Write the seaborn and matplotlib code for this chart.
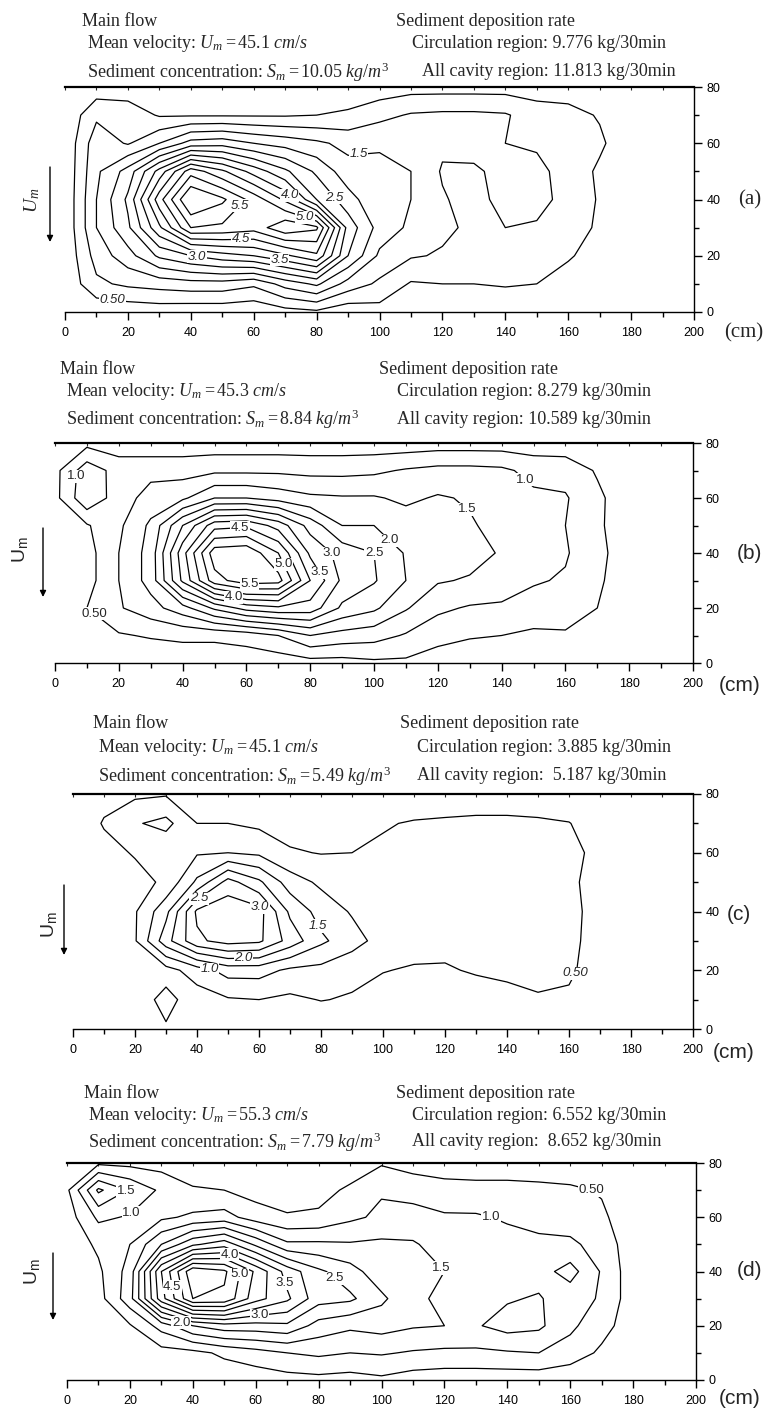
import numpy as np
import matplotlib
matplotlib.use("Agg")
import matplotlib.pyplot as plt
from matplotlib.ticker import MultipleLocator
import seaborn as sns

sns.set_style("ticks")
plt.rcParams['font.family'] = ['Liberation Sans', 'DejaVu Sans']
plt.rcParams['mathtext.fontset'] = 'custom'
plt.rcParams['mathtext.rm'] = 'Liberation Serif'
plt.rcParams['mathtext.it'] = 'Liberation Serif:italic'
plt.rcParams['mathtext.sf'] = 'Liberation Sans'

# ---------------- data ----------------
x_cm = [0, 10, 20, 30, 40, 50, 60, 70, 80, 90, 100, 110, 120, 130, 140, 150, 160, 170, 180, 190, 200]
y_cm = [0, 10, 20, 30, 40, 50, 60, 70, 80]

# each inner list = one x column (values at y = 0..80), sediment concentration
conc_a = [
    [0.1, 0.1, 0.1, 0.1, 0.1, 0.1, 0.1, 0.1, 0.1],
    [0.1, 0.9, 1.2, 1.5, 1.5, 1.4, 1.3, 0.9, 0.2],
    [0.15, 1.1, 1.8, 2.4, 2.6, 2.2, 0.95, 0.8, 0.2],
    [0.2, 1.2, 2.6, 3.9, 4.8, 3.7, 1.5, 0.45, 0.1],
    [0.15, 1.3, 3.0, 5.5, 6.6, 5.3, 2.2, 0.45, 0.1],
    [0.15, 1.3, 3.3, 5.4, 6.1, 4.6, 2.3, 0.45, 0.1],
    [0.1, 1.1, 3.5, 5.2, 5.3, 3.8, 2.0, 0.45, 0.1],
    [0.3, 1.7, 3.9, 5.9, 4.4, 3.1, 1.8, 0.45, 0.1],
    [0.4, 2.1, 4.4, 5.6, 3.0, 2.4, 1.6, 0.5, 0.1],
    [0.15, 1.3, 2.5, 2.8, 2.2, 1.7, 1.35, 0.6, 0.1],
    [0.3, 0.9, 1.4, 1.8, 1.6, 1.6, 1.45, 0.85, 0.2],
    [0.1, 0.45, 1.05, 1.4, 1.5, 1.5, 1.3, 1.05, 0.3],
    [0.1, 0.5, 0.95, 1.1, 1.05, 0.95, 1.1, 1.1, 0.3],
    [0.1, 0.5, 0.85, 0.9, 0.8, 0.9, 1.25, 1.1, 0.3],
    [0.1, 0.55, 0.85, 1.0, 1.2, 1.2, 1.0, 1.05, 0.3],
    [0.1, 0.5, 0.75, 0.95, 1.15, 1.1, 0.95, 0.75, 0.25],
    [0.05, 0.3, 0.55, 0.8, 0.85, 0.85, 0.6, 0.7, 0.2],
    [0.05, 0.1, 0.3, 0.4, 0.45, 0.4, 0.6, 0.45, 0.1],
    [0.0, 0.0, 0.05, 0.05, 0.05, 0.05, 0.1, 0.05, 0.0],
    [0.0, 0.0, 0.0, 0.0, 0.0, 0.0, 0.0, 0.0, 0.0],
    [0.0, 0.0, 0.0, 0.0, 0.0, 0.0, 0.0, 0.0, 0.0],
]

conc_b = [
    [0.1, 0.1, 0.1, 0.1, 0.1, 0.2, 0.35, 0.35, 0.1],
    [0.1, 0.3, 0.5, 0.3, 0.3, 0.45, 1.4, 1.3, 0.35],
    [0.1, 0.45, 0.95, 1.0, 1.0, 0.9, 0.75, 0.8, 0.2],
    [0.1, 0.55, 1.3, 1.7, 1.7, 1.6, 1.2, 0.85, 0.15],
    [0.2, 0.6, 1.8, 3.6, 3.8, 3.0, 1.4, 0.8, 0.2],
    [0.2, 0.6, 2.6, 5.3, 5.8, 4.3, 2.0, 0.9, 0.2],
    [0.2, 0.7, 3.2, 5.8, 5.9, 4.4, 2.0, 0.9, 0.2],
    [0.2, 1.0, 3.4, 5.7, 5.0, 3.8, 1.8, 0.9, 0.2],
    [0.3, 1.5, 3.3, 4.0, 3.4, 2.8, 1.6, 0.85, 0.2],
    [0.3, 1.3, 2.4, 2.9, 2.8, 2.0, 1.55, 0.85, 0.2],
    [0.4, 1.2, 2.1, 2.55, 2.5, 2.0, 1.55, 0.9, 0.2],
    [0.4, 0.95, 1.55, 2.0, 1.95, 1.75, 1.4, 1.05, 0.2],
    [0.2, 0.7, 1.1, 1.55, 1.6, 1.6, 1.55, 1.15, 0.25],
    [0.15, 0.55, 0.95, 1.45, 1.7, 1.55, 1.45, 1.15, 0.25],
    [0.1, 0.5, 0.9, 1.35, 1.45, 1.35, 1.1, 1.1, 0.25],
    [0.1, 0.4, 0.8, 1.05, 1.2, 1.1, 1.1, 0.85, 0.2],
    [0.05, 0.45, 0.7, 0.95, 1.05, 1.0, 1.05, 0.8, 0.2],
    [0.05, 0.2, 0.5, 0.6, 0.65, 0.6, 0.6, 0.45, 0.1],
    [0.0, 0.05, 0.1, 0.15, 0.2, 0.15, 0.2, 0.1, 0.05],
    [0.0, 0.0, 0.0, 0.0, 0.0, 0.0, 0.0, 0.0, 0.0],
    [0.0, 0.0, 0.0, 0.0, 0.0, 0.0, 0.0, 0.0, 0.0],
]

conc_c = [
    [0.05, 0.05, 0.05, 0.05, 0.05, 0.05, 0.05, 0.05, 0.05],
    [0.0, 0.05, 0.1, 0.1, 0.15, 0.2, 0.3, 0.55, 0.3],
    [0.05, 0.25, 0.35, 0.45, 0.45, 0.3, 0.55, 0.95, 0.4],
    [0.45, 0.65, 0.3, 1.8, 1.35, 0.6, 0.6, 1.15, 0.45],
    [0.2, 0.25, 0.75, 2.9, 3.1, 1.6, 0.95, 0.5, 0.2],
    [0.2, 0.45, 1.2, 3.2, 3.35, 2.7, 1.0, 0.5, 0.2],
    [0.1, 0.5, 1.2, 3.1, 3.2, 2.1, 0.9, 0.4, 0.15],
    [0.05, 0.4, 0.9, 2.3, 1.9, 1.25, 0.55, 0.3, 0.1],
    [0.1, 0.52, 0.85, 1.6, 1.3, 0.9, 0.48, 0.25, 0.05],
    [0.05, 0.45, 0.65, 1.2, 0.95, 0.75, 0.5, 0.3, 0.05],
    [0.05, 0.3, 0.52, 0.8, 0.75, 0.7, 0.6, 0.45, 0.05],
    [0.05, 0.2, 0.45, 0.7, 0.7, 0.7, 0.65, 0.55, 0.1],
    [0.05, 0.2, 0.45, 0.65, 0.7, 0.7, 0.7, 0.6, 0.1],
    [0.05, 0.25, 0.55, 0.65, 0.7, 0.7, 0.7, 0.65, 0.1],
    [0.05, 0.35, 0.6, 0.65, 0.7, 0.7, 0.7, 0.65, 0.1],
    [0.05, 0.45, 0.65, 0.7, 0.7, 0.7, 0.6, 0.6, 0.1],
    [0.05, 0.4, 0.6, 0.65, 0.65, 0.6, 0.55, 0.52, 0.1],
    [0.0, 0.1, 0.2, 0.25, 0.3, 0.3, 0.45, 0.2, 0.05],
    [0.0, 0.0, 0.0, 0.0, 0.0, 0.0, 0.0, 0.0, 0.0],
    [0.0, 0.0, 0.0, 0.0, 0.0, 0.0, 0.0, 0.0, 0.0],
    [0.0, 0.0, 0.0, 0.0, 0.0, 0.0, 0.0, 0.0, 0.0],
]

conc_d = [
    [0.05, 0.05, 0.05, 0.1, 0.1, 0.15, 0.25, 0.4, 0.2],
    [0.05, 0.1, 0.15, 0.3, 0.4, 0.6, 1.1, 2.1, 0.4],
    [0.1, 0.2, 0.45, 1.3, 1.2, 1.0, 0.95, 1.45, 0.35],
    [0.1, 0.3, 1.2, 3.8, 4.0, 2.0, 0.9, 0.9, 0.3],
    [0.1, 0.35, 2.0, 5.5, 5.9, 2.9, 1.1, 0.55, 0.2],
    [0.15, 0.6, 2.3, 5.4, 5.6, 3.3, 1.2, 0.5, 0.2],
    [0.2, 0.8, 2.3, 4.2, 4.4, 2.4, 0.75, 0.3, 0.15],
    [0.3, 1.0, 2.4, 3.6, 3.3, 1.6, 0.55, 0.25, 0.1],
    [0.35, 1.1, 1.8, 2.7, 2.6, 1.6, 0.6, 0.3, 0.15],
    [0.3, 1.0, 1.6, 2.6, 2.2, 1.55, 0.9, 0.6, 0.15],
    [0.4, 1.05, 1.7, 2.1, 1.7, 1.6, 1.1, 0.95, 0.45],
    [0.25, 0.95, 1.55, 1.6, 1.55, 1.55, 1.2, 0.8, 0.3],
    [0.2, 0.9, 1.5, 1.4, 1.5, 1.3, 1.05, 0.75, 0.15],
    [0.2, 0.9, 1.45, 1.5, 1.25, 1.2, 1.05, 0.7, 0.15],
    [0.2, 0.95, 1.7, 1.45, 1.2, 1.15, 0.95, 0.7, 0.15],
    [0.2, 1.0, 1.6, 1.55, 1.3, 1.1, 0.85, 0.65, 0.15],
    [0.1, 0.8, 1.1, 1.2, 1.7, 1.1, 0.75, 0.6, 0.1],
    [0.05, 0.4, 0.7, 0.95, 0.95, 0.8, 0.6, 0.45, 0.05],
    [0.0, 0.1, 0.2, 0.2, 0.2, 0.2, 0.15, 0.1, 0.0],
    [0.0, 0.0, 0.0, 0.0, 0.0, 0.0, 0.0, 0.0, 0.0],
    [0.0, 0.0, 0.0, 0.0, 0.0, 0.0, 0.0, 0.0, 0.0],
]

levels_a = [0.5, 1.0, 1.5, 2.0, 2.5, 3.0, 3.5, 4.0, 4.5, 5.0, 5.5, 6.0]
levels_b = [0.5, 1.0, 1.5, 2.0, 2.5, 3.0, 3.5, 4.0, 4.5, 5.0, 5.5]
levels_c = [0.5, 1.0, 1.5, 2.0, 2.5, 3.0]
levels_d = [0.5, 1.0, 1.5, 2.0, 2.5, 3.0, 3.5, 4.0, 4.5, 5.0, 5.5]

# contour labels: (level, near x, near y)
labels_a = [(0.5, 15, 4), (1.5, 93, 61), (2.5, 85, 40), (3.0, 42, 20), (3.5, 68, 17),
            (4.0, 71, 41), (4.5, 56, 24), (5.0, 77, 36), (5.5, 58, 35)]
labels_b = [(0.5, 11, 16), (1.0, 6, 68), (1.0, 146, 65), (1.5, 130, 57), (2.0, 106, 46),
            (2.5, 101, 40), (3.0, 87, 40), (3.5, 83, 33), (4.0, 56, 24), (4.5, 58, 48),
            (5.0, 70, 35), (5.5, 61, 29)]
labels_c = [(0.5, 162, 19), (1.0, 44, 20), (1.5, 79, 35), (2.0, 55, 24), (2.5, 43, 41), (3.0, 60, 41)]
labels_d = [(0.5, 167, 71), (1.0, 21, 61), (1.0, 135, 61), (1.5, 20, 67), (1.5, 128, 51),
            (2.0, 36, 20), (2.5, 84, 36), (3.0, 61, 26), (3.5, 70, 36), (4.0, 52, 47),
            (4.5, 32, 34), (5.0, 55, 39)]

velocity = ["45.1", "45.3", "45.1", "55.3"]
concentration = ["10.05", "8.84", "5.49", "7.79"]
circulation = ["9.776", "8.279", "3.885", "6.552"]
all_cavity = ["11.813", "10.589", " 5.187", " 8.652"]
panel_tags = ["(a)", "(b)", "(c)", "(d)"]

# ---------------- layout (figure pixels) ----------------
W, H = 766, 1408
boxes = [(65, 694, 87, 312), (55, 693, 443, 663), (73, 693, 794, 1029), (67, 696, 1163, 1380)]
head_left = [(82, 87, 21, 43, 72), (60, 66, 370, 392, 419), (93, 98, 723, 747, 776), (84, 88, 1093, 1115, 1142)]
head_right = [(396, 412, 422), (379, 397, 397), (400, 417, 417), (396, 412, 412)]
um_pos = [(32, 200, 50, 167, 242), (20, 550, 43, 528, 597), (49, 925, 64, 885, 955), (32, 1272, 53, 1253, 1320)]
tag_pos = [(750, 200), (749, 553), (739, 915), (749, 1270)]
cm_pos = [(744, 333), (740, 685), (734, 1052), (740, 1398)]
serif_panel = [True, False, False, False]
italic_labels = [True, False, True, False]

zs = [conc_a, conc_b, conc_c, conc_d]
levs = [levels_a, levels_b, levels_c, levels_d]
labs = [labels_a, labels_b, labels_c, labels_d]


def fx(px):
    return px / W


def fy(py):
    return 1 - py / H


def fmt(v):
    return "0.50" if abs(v - 0.5) < 1e-6 else f"{v:.1f}"


def label_on_contour(ax, cs, levels, lev, lx, ly, italic):
    k = int(np.argmin([abs(v - lev) for v in levels]))
    segs = cs.allsegs[k]
    if not segs:
        return
    target = ax.transData.transform((lx, ly))
    best = None
    for seg in segs:
        if len(seg) < 2:
            continue
        d = ax.transData.transform(seg)
        for j in range(len(d) - 1):
            p0, p1 = d[j], d[j + 1]
            v = p1 - p0
            L2 = float(v @ v)
            t = 0.0 if L2 == 0 else float(np.clip((target - p0) @ v / L2, 0, 1))
            q = p0 + t * v
            dist = float(np.hypot(*(q - target)))
            if best is None or dist < best[0]:
                best = (dist, q)
    if best is None:
        return
    xd, yd = ax.transData.inverted().transform(best[1])
    ax.text(xd, yd, fmt(lev), ha='center', va='center',
            fontsize=9.5, fontfamily='Liberation Sans', fontstyle='italic' if italic else 'normal',
            bbox=dict(facecolor='white', edgecolor='none', pad=0.4), zorder=5)


fig = plt.figure(figsize=(W / 100, H / 100), dpi=100)
serif = 'Liberation Serif'
sans = 'Liberation Sans'

for i in range(4):
    l, r, t, b = boxes[i]
    ax = fig.add_axes([fx(l), fy(b), (r - l) / W, (b - t) / H])
    ax.set_xlim(0, 200)
    ax.set_ylim(0, 80)
    Z = np.array(zs[i]).T
    cs = ax.contour(x_cm, y_cm, Z, levels=levs[i], colors='black', linewidths=0.9)
    for lev, lx, ly in labs[i]:
        label_on_contour(ax, cs, levs[i], lev, lx, ly, italic_labels[i])

    ax.set_facecolor('white')
    ax.spines['left'].set_visible(False)
    ax.spines['top'].set_visible(False)
    for s in ['right', 'bottom']:
        ax.spines[s].set_visible(True)
        ax.spines[s].set_color('black')
        ax.spines[s].set_linewidth(1.0)
    ax.set_xticks(np.arange(0, 201, 20))
    ax.xaxis.set_minor_locator(MultipleLocator(10))
    ax.set_yticks(np.arange(0, 81, 20))
    ax.yaxis.set_minor_locator(MultipleLocator(10))
    ax.tick_params(axis='x', which='both', bottom=True, top=False, direction='out',
                   labelsize=9, colors='black', width=1.0)
    ax.tick_params(axis='x', which='major', length=6, pad=5)
    ax.tick_params(axis='x', which='minor', length=3.5)
    ax.tick_params(axis='y', which='both', left=False, right=True, labelleft=False,
                   labelright=True, direction='out', labelsize=9, colors='black', width=1.0)
    ax.tick_params(axis='y', which='major', length=6, pad=3)
    ax.tick_params(axis='y', which='minor', length=3.5)
    for lab in ax.get_xticklabels() + ax.get_yticklabels():
        lab.set_fontfamily(sans)

    sec = ax.secondary_xaxis('top')
    sec.set_xticks(np.arange(0, 201, 20))
    sec.xaxis.set_minor_locator(MultipleLocator(10))
    sec.tick_params(which='both', direction='in', length=2.5, labeltop=False, width=0.8)
    sec.spines['top'].set_linewidth(1.6)
    sec.spines['top'].set_color('black')

    # header texts
    x0, x1, y0, y1, y2 = head_left[i]
    rx0, rx1, rx2 = head_right[i]
    fs = 13
    fig.text(fx(x0), fy(y0), "Main flow", fontfamily=serif, fontsize=fs, va='center', ha='left')
    fig.text(fx(x1), fy(y1), r"Mean velocity: $\mathit{U_{m}{=}" + velocity[i] + r"\ cm/s}$",
             fontfamily=serif, fontsize=fs, va='center', ha='left')
    fig.text(fx(x1), fy(y2), r"Sediment concentration: $\mathit{S_{m}{=}" + concentration[i] + r"\ kg/m^{3}}$",
             fontfamily=serif, fontsize=fs, va='center', ha='left')
    fig.text(fx(rx0), fy(y0), "Sediment deposition rate", fontfamily=serif, fontsize=fs, va='center', ha='left')
    fig.text(fx(rx1), fy(y1), "Circulation region: " + circulation[i] + " kg/30min",
             fontfamily=serif, fontsize=fs, va='center', ha='left')
    fig.text(fx(rx2), fy(y2), "All cavity region: " + all_cavity[i] + " kg/30min",
             fontfamily=serif, fontsize=fs, va='center', ha='left')

    # U_m label and arrow
    ux, uy, axx, ay0, ay1 = um_pos[i]
    if serif_panel[i]:
        fig.text(fx(ux), fy(uy), r"$\mathit{U_{m}}$", fontsize=14, rotation=90, va='center', ha='center')
    else:
        fig.text(fx(ux), fy(uy), r"$\mathsf{U_{m}}$", fontsize=14, rotation=90, va='center', ha='center')
    ax.annotate('', xy=(fx(axx), fy(ay1)), xytext=(fx(axx), fy(ay0)),
                xycoords='figure fraction', textcoords='figure fraction', annotation_clip=False,
                arrowprops=dict(arrowstyle='-|>', color='black', lw=1.0, mutation_scale=9,
                                shrinkA=0, shrinkB=0))

    tx, ty = tag_pos[i]
    fig.text(fx(tx), fy(ty), panel_tags[i], fontfamily=serif if serif_panel[i] else sans,
             fontsize=15, va='center', ha='center')
    cx, cy = cm_pos[i]
    fig.text(fx(cx), fy(cy), "(cm)", fontfamily=serif if serif_panel[i] else sans,
             fontsize=15, va='center', ha='center')

fig.savefig("out.png", dpi=100, facecolor='white')
